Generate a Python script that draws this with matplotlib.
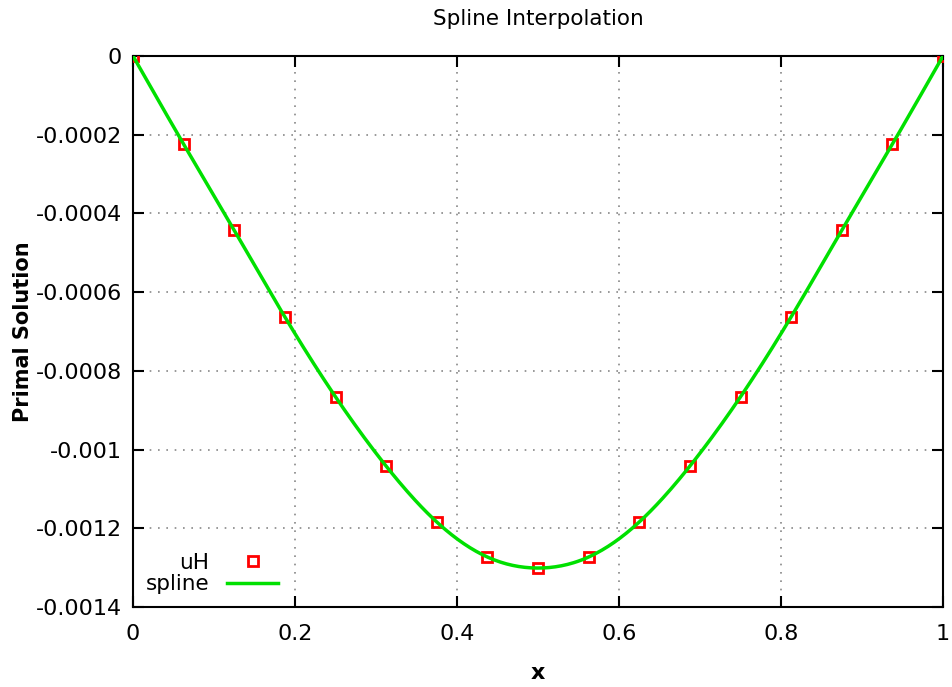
import numpy as np
import matplotlib
matplotlib.use("Agg")
import matplotlib.pyplot as plt

# data
x_nodes = [0.0, 0.0625, 0.125, 0.1875, 0.25, 0.3125, 0.375, 0.4375, 0.5,
           0.5625, 0.625, 0.6875, 0.75, 0.8125, 0.875, 0.9375, 1.0]
uH = [0.0, -0.000224, -0.000443, -0.000663, -0.000866, -0.001042, -0.001184, -0.001273, -0.001301,
      -0.001273, -0.001184, -0.001042, -0.000866, -0.000663, -0.000443, -0.000224, 0.0]
x_ticks = [0, 0.2, 0.4, 0.6, 0.8, 1]
x_ticklabels = ["0", "0.2", "0.4", "0.6", "0.8", "1"]
y_ticks = [0, -0.0002, -0.0004, -0.0006, -0.0008, -0.001, -0.0012, -0.0014]
y_ticklabels = ["0", "-0.0002", "-0.0004", "-0.0006", "-0.0008", "-0.001", "-0.0012", "-0.0014"]


def natural_cubic_spline(xs, ys, xq):
    xs = np.asarray(xs, float); ys = np.asarray(ys, float)
    n = len(xs)
    h = np.diff(xs)
    A = np.zeros((n, n)); b = np.zeros(n)
    A[0, 0] = 1; A[-1, -1] = 1
    for i in range(1, n - 1):
        A[i, i - 1] = h[i - 1]
        A[i, i] = 2 * (h[i - 1] + h[i])
        A[i, i + 1] = h[i]
        b[i] = 6 * ((ys[i + 1] - ys[i]) / h[i] - (ys[i] - ys[i - 1]) / h[i - 1])
    M = np.linalg.solve(A, b)
    idx = np.clip(np.searchsorted(xs, xq) - 1, 0, n - 2)
    x0 = xs[idx]; x1 = xs[idx + 1]; hh = x1 - x0
    t0 = x1 - xq; t1 = xq - x0
    return (M[idx] * t0 ** 3 / (6 * hh) + M[idx + 1] * t1 ** 3 / (6 * hh)
            + (ys[idx] / hh - M[idx] * hh / 6) * t0 + (ys[idx + 1] / hh - M[idx + 1] * hh / 6) * t1)


xs_fine = np.linspace(0, 1, 400)
ys_fine = natural_cubic_spline(x_nodes, uH, xs_fine)

plt.rcParams['font.family'] = ['DejaVu Sans']
fig = plt.figure(figsize=(9.52, 6.87), dpi=100)
ax = fig.add_axes([133 / 952, 1 - 607 / 687, (943 - 133) / 952, (607 - 56) / 687])

ax.plot(x_nodes, uH, linestyle='none', marker='s', markersize=6.5, markerfacecolor='none',
        markeredgecolor='#ff0000', markeredgewidth=2.0, label='uH', zorder=3)
ax.plot(xs_fine, ys_fine, color='#00e000', linewidth=2.5, label='spline', zorder=4)

ax.set_xlim(0, 1)
ax.set_ylim(-0.0014, 0)
ax.set_xticks(x_ticks)
ax.set_xticklabels(x_ticklabels)
ax.set_yticks(y_ticks)
ax.set_yticklabels(y_ticklabels)
ax.tick_params(direction='in', length=8, width=1.5, labelsize=16, top=True, right=True,
               colors='black')
ax.tick_params(axis='x', pad=12)
ax.tick_params(axis='y', pad=8)
ax.grid(True, linestyle=(0, (1, 4)), color='#888888', linewidth=1.2)
for s in ax.spines.values():
    s.set_linewidth(1.5)

ax.set_title('Spline Interpolation', fontsize=15.5, pad=22)
ax.set_xlabel('x', fontsize=16, fontweight='bold', labelpad=14)
ax.set_ylabel('Primal Solution', fontsize=15, fontweight='bold', labelpad=2)

leg = ax.legend(loc='lower left', frameon=False, markerfirst=False, fontsize=15.5,
                handlelength=2.4, borderaxespad=0.2, labelspacing=0.05,
                bbox_to_anchor=(0.0, 0.0))
for t in leg.get_texts():
    t.set_ha('right')

fig.savefig('out.png', dpi=100)
